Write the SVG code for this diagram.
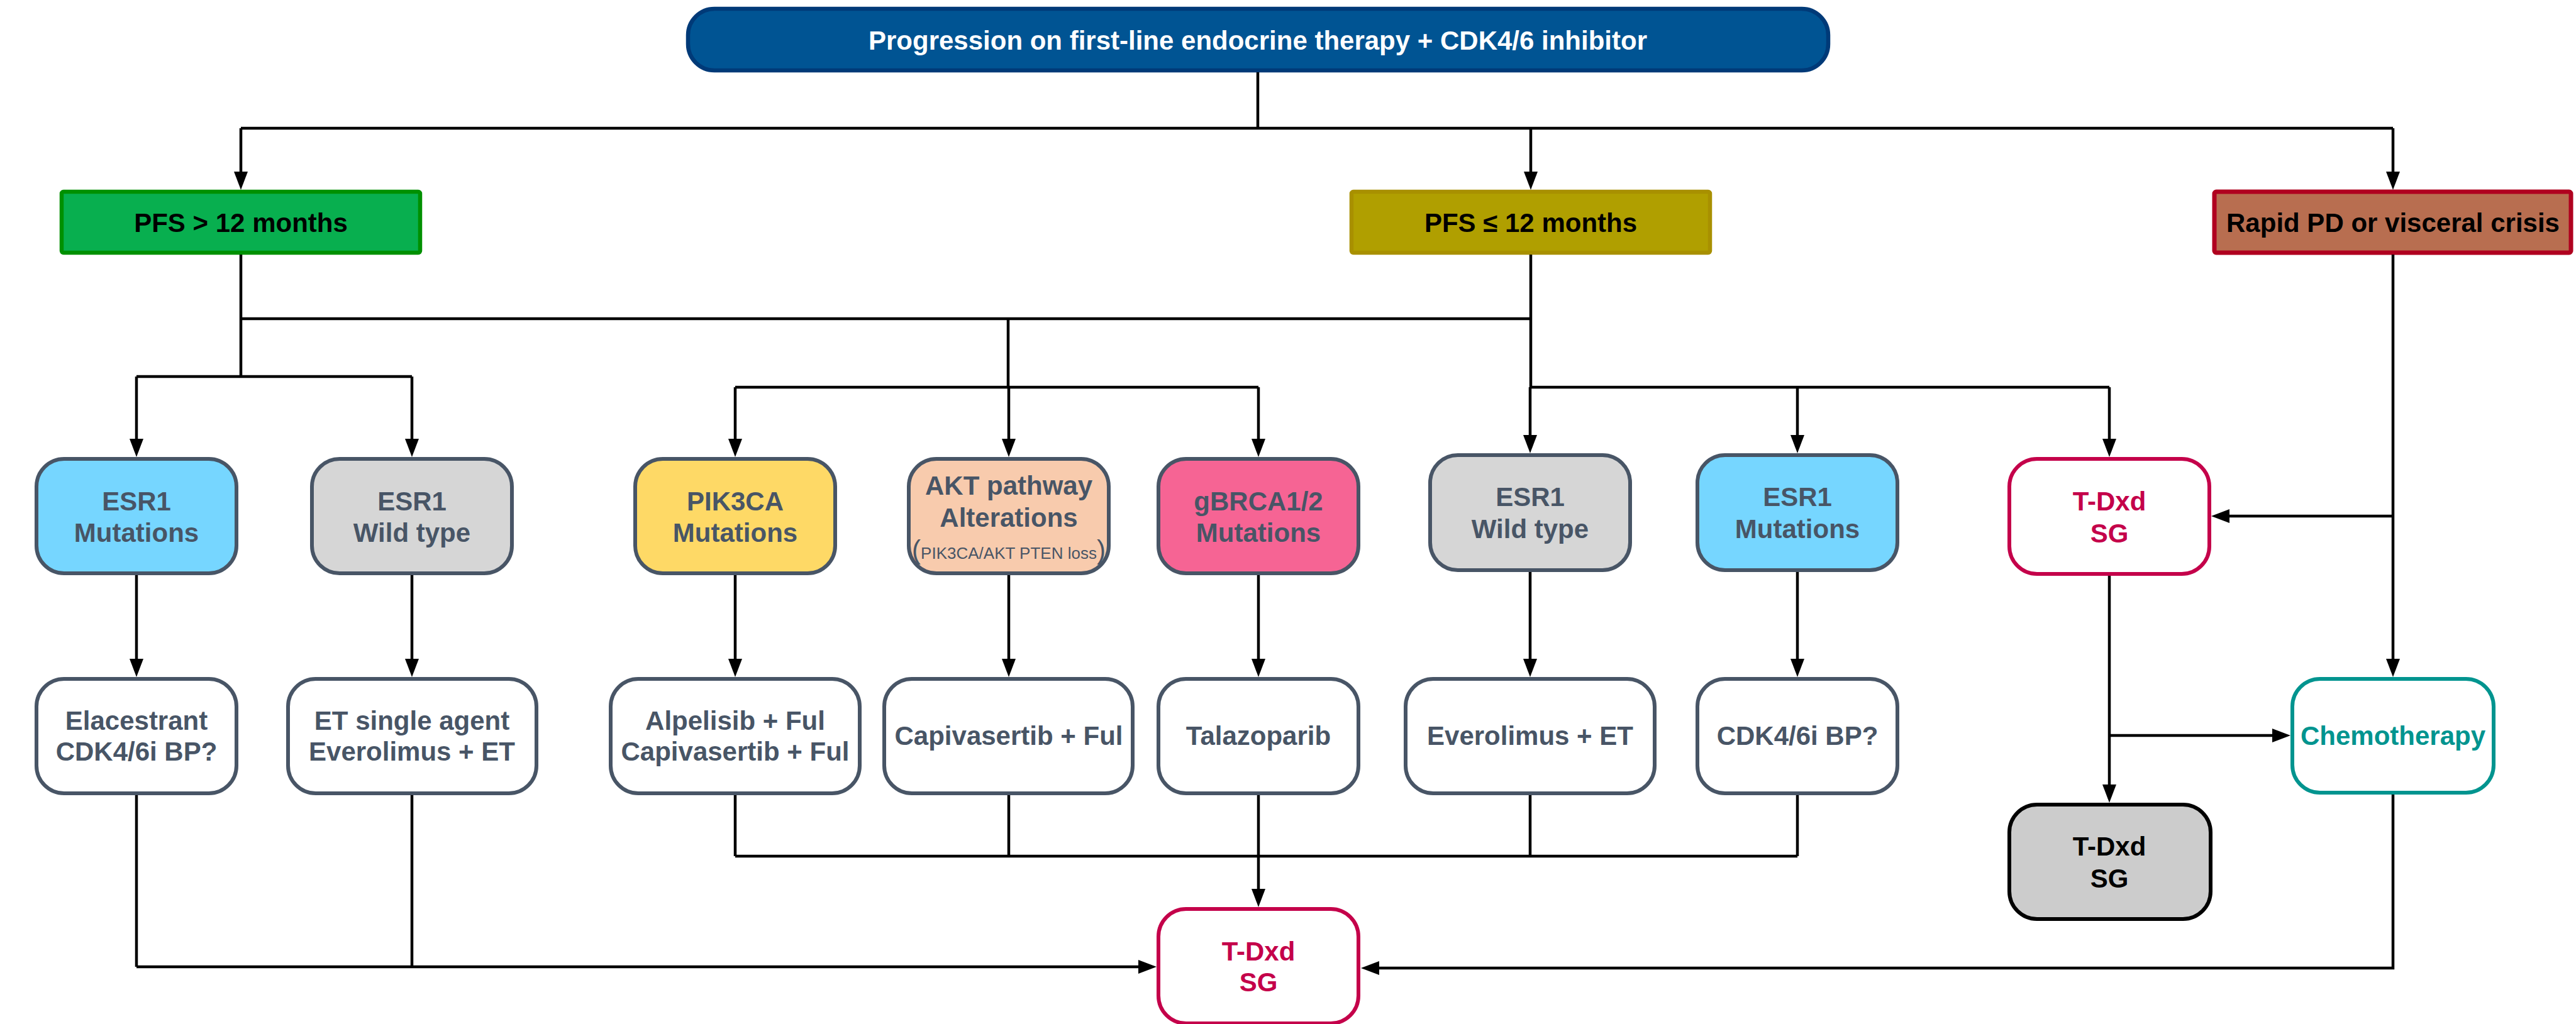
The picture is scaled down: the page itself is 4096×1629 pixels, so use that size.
<svg xmlns="http://www.w3.org/2000/svg" width="4096" height="1629" viewBox="0 0 4096 1629">
<defs>
<marker id="ah" viewBox="0 0 29 22" refX="0" refY="11" markerWidth="29" markerHeight="22" markerUnits="userSpaceOnUse" orient="auto">
<path d="M0,0 L29,11 L0,22 Z" fill="#000"/>
</marker>
<style>
text{font-family:"Liberation Sans",Arial,Helvetica,sans-serif;font-weight:bold;font-size:42px;text-anchor:middle}
.n rect{stroke-width:6}
.mut rect{fill:#76D6FF;stroke:#485566}
.wt rect{fill:#D6D6D6;stroke:#485566}
.pik rect{fill:#FED966;stroke:#485566}
.akt rect{fill:#F8CBAD;stroke:#485566}
.brca rect{fill:#F66494;stroke:#485566}
.tx rect{fill:#FFFFFF;stroke:#485566}
.n text{fill:#485566}
.red rect{fill:#FFFFFF;stroke:#C4004A}
.red text{fill:#C4004A}
.chemo rect{fill:#FFFFFF;stroke:#00948F}
.chemo text{fill:#00948F}
.grey rect{fill:#CCCCCC;stroke:#000}
.grey text{fill:#000}
.c path{fill:none;stroke:#000;stroke-width:4.5}
.c .a{marker-end:url(#ah)}
.small{font-weight:normal;font-size:26px}
.par{font-weight:normal;font-size:42px}
</style>
</defs>

<g id="start">
<rect x="1094" y="14" width="1813" height="98" rx="42" fill="#005493" stroke="#003A78" stroke-width="6.5"/>
<text x="2000" y="79" fill="#FFFFFF">Progression on first-line endocrine therapy + CDK4/6 inhibitor</text>
</g>

<g id="pfs-gt12">
<rect x="98" y="305" width="570" height="97" rx="3" fill="#08AF4F" stroke="#009000" stroke-width="6.5"/>
<text x="383" y="369" fill="#000">PFS &gt; 12 months</text>
</g>
<g id="pfs-le12">
<rect x="2149" y="305" width="570" height="97" rx="3" fill="#B09F00" stroke="#A89000" stroke-width="6.5"/>
<text x="2434" y="369" fill="#000">PFS ≤ 12 months</text>
</g>
<g id="rapid-pd">
<rect x="3521" y="305" width="567" height="97" rx="3" fill="#B86E50" stroke="#B0001F" stroke-width="7"/>
<text x="3805" y="369" fill="#000">Rapid PD or visceral crisis</text>
</g>

<g id="esr1-mut-1" class="n mut">
<rect x="58" y="730" width="318" height="182" rx="44"/>
<text x="217" y="812">ESR1</text><text x="217" y="862">Mutations</text>
</g>
<g id="esr1-wt-1" class="n wt">
<rect x="496" y="730" width="318" height="182" rx="44"/>
<text x="655" y="812">ESR1</text><text x="655" y="862">Wild type</text>
</g>
<g id="pik3ca" class="n pik">
<rect x="1010" y="730" width="318" height="182" rx="44"/>
<text x="1169" y="812">PIK3CA</text><text x="1169" y="862">Mutations</text>
</g>
<g id="akt" class="n akt">
<rect x="1445" y="730" width="318" height="182" rx="44"/>
<text x="1604" y="787">AKT pathway</text><text x="1604" y="838">Alterations</text>
<text x="1604" y="889"><tspan class="par">(</tspan><tspan class="small">PIK3CA/AKT PTEN loss</tspan><tspan class="par">)</tspan></text>
</g>
<g id="gbrca" class="n brca">
<rect x="1842" y="730" width="318" height="182" rx="44"/>
<text x="2001" y="812">gBRCA1/2</text><text x="2001" y="862">Mutations</text>
</g>
<g id="esr1-wt-2" class="n wt">
<rect x="2274" y="724" width="318" height="183" rx="44"/>
<text x="2433" y="805">ESR1</text><text x="2433" y="856">Wild type</text>
</g>
<g id="esr1-mut-2" class="n mut">
<rect x="2699" y="724" width="318" height="183" rx="44"/>
<text x="2858" y="805">ESR1</text><text x="2858" y="856">Mutations</text>
</g>
<g id="tdxd-sg-1" class="n red">
<rect x="3195" y="730" width="318" height="183" rx="44"/>
<text x="3354" y="812">T-Dxd</text><text x="3354" y="863">SG</text>
</g>

<g id="elacestrant" class="n tx">
<rect x="58" y="1080" width="318" height="182" rx="44"/>
<text x="217" y="1161">Elacestrant</text><text x="217" y="1210">CDK4/6i BP?</text>
</g>
<g id="et-single" class="n tx">
<rect x="458" y="1080" width="395" height="182" rx="44"/>
<text x="655" y="1161">ET single agent</text><text x="655" y="1210">Everolimus + ET</text>
</g>
<g id="alpelisib" class="n tx">
<rect x="971" y="1080" width="396" height="182" rx="44"/>
<text x="1169" y="1161">Alpelisib + Ful</text><text x="1169" y="1210">Capivasertib + Ful</text>
</g>
<g id="capivasertib" class="n tx">
<rect x="1406" y="1080" width="395" height="182" rx="44"/>
<text x="1604" y="1185">Capivasertib + Ful</text>
</g>
<g id="talazoparib" class="n tx">
<rect x="1842" y="1080" width="318" height="182" rx="44"/>
<text x="2001" y="1185">Talazoparib</text>
</g>
<g id="everolimus" class="n tx">
<rect x="2235" y="1080" width="396" height="182" rx="44"/>
<text x="2433" y="1185">Everolimus + ET</text>
</g>
<g id="cdk-bp" class="n tx">
<rect x="2699" y="1080" width="318" height="182" rx="44"/>
<text x="2858" y="1185">CDK4/6i BP?</text>
</g>
<g id="chemotherapy" class="n chemo">
<rect x="3645" y="1080" width="320" height="181" rx="44"/>
<text x="3805" y="1185">Chemotherapy</text>
</g>
<g id="tdxd-sg-grey" class="n grey">
<rect x="3195" y="1280" width="320" height="182" rx="44"/>
<text x="3354" y="1361">T-Dxd</text><text x="3354" y="1412">SG</text>
</g>
<g id="tdxd-sg-final" class="n red">
<rect x="1842" y="1446" width="318" height="182" rx="44"/>
<text x="2001" y="1528">T-Dxd</text><text x="2001" y="1577">SG</text>
</g>

<g id="connectors" class="c">
<path d="M2000,115 V204"/>
<path d="M383,204 H3805"/>
<path class="a" d="M383,204 V273"/>
<path class="a" d="M2434,204 V273"/>
<path class="a" d="M3805,204 V273"/>

<path d="M383,405 V599"/>
<path d="M383,507 H2434"/>
<path d="M217,599 H655"/>
<path class="a" d="M217,599 V698"/>
<path class="a" d="M655,599 V698"/>

<path d="M1603,507 V616"/>
<path d="M1169,616 H2001"/>
<path class="a" d="M1169,616 V698"/>
<path class="a" d="M1604,616 V698"/>
<path class="a" d="M2001,616 V698"/>

<path d="M2434,405 V616"/>
<path d="M2434,616 H3354"/>
<path class="a" d="M2433,616 V692"/>
<path class="a" d="M2858,616 V692"/>
<path class="a" d="M3354,616 V698"/>

<path class="a" d="M3805,405 V1048"/>
<path class="a" d="M3805,821 H3545"/>

<path class="a" d="M217,915 V1048"/>
<path class="a" d="M655,915 V1048"/>
<path class="a" d="M1169,915 V1048"/>
<path class="a" d="M1604,915 V1048"/>
<path class="a" d="M2001,915 V1048"/>
<path class="a" d="M2433,910 V1048"/>
<path class="a" d="M2858,910 V1048"/>

<path class="a" d="M3354,916 V1248"/>
<path class="a" d="M3354,1170 H3613"/>

<path d="M217,1265 V1538"/>
<path d="M655,1265 V1538"/>
<path class="a" d="M217,1538 H1810"/>
<path d="M1169,1265 V1362"/>
<path d="M1604,1265 V1362"/>
<path d="M2433,1265 V1362"/>
<path d="M2858,1265 V1362"/>
<path d="M1169,1362 H2858"/>
<path class="a" d="M2001,1265 V1414"/>
<path class="a" d="M3805,1264 V1540 H2193"/>
</g>
</svg>
